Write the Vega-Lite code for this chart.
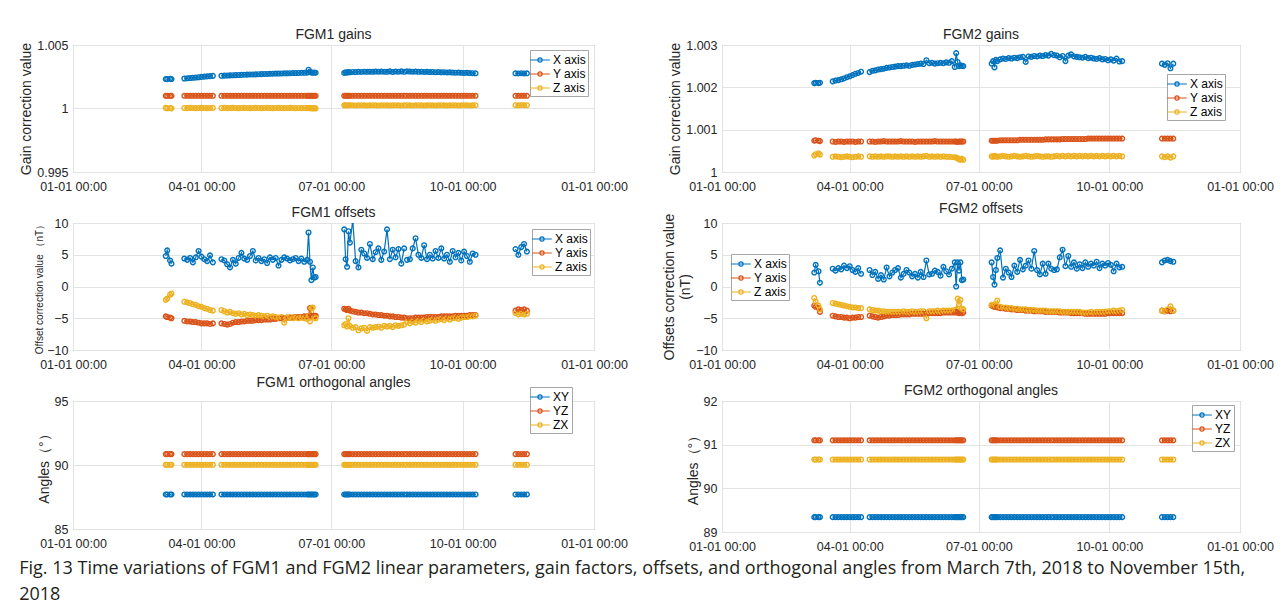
{
"$schema":"https://vega.github.io/schema/vega-lite/v6.json",
"padding":{"left":19,"top":27,"right":5,"bottom":0},
"datasets":{"r":[
{"d":"2018-03-07","s":1,"gx":1.00232,"gy":1.001,"gz":1.00006,"hx":1.0021,"hy":1.00074,"hz":1.00039,"ox":4.8,"oy":-4.7,"oz":-2.1,"px":2.2,"py":-3.0,"pz":-1.8,"a":87.7,"b":90.85,"c":90.02,"e":89.34,"f":91.1,"g":90.66},
{"d":"2018-03-08","s":1,"gx":1.00231,"gy":1.001,"gz":1.00002,"hx":1.00211,"hy":1.00075,"hz":1.00042,"ox":5.7,"oy":-4.8,"oz":-1.9,"px":3.4,"py":-3.2,"pz":-2.4,"a":87.7,"b":90.85,"c":90.02,"e":89.34,"f":91.1,"g":90.66},
{"d":"2018-03-10","s":1,"gx":1.00233,"gy":1.001,"gz":1.00004,"hx":1.0021,"hy":1.00074,"hz":1.00044,"ox":4.1,"oy":-4.9,"oz":-1.3,"px":2.4,"py":-3.4,"pz":-3.0,"a":87.7,"b":90.85,"c":90.02,"e":89.34,"f":91.1,"g":90.66},
{"d":"2018-03-11","s":1,"gx":1.00232,"gy":1.001,"gz":1.00001,"hx":1.00211,"hy":1.00073,"hz":1.00041,"ox":3.6,"oy":-5.0,"oz":-1.1,"px":0.6,"py":-4.0,"pz":-3.6,"a":87.7,"b":90.85,"c":90.02,"e":89.34,"f":91.1,"g":90.66},
{"d":"2018-03-20","s":2,"gx":1.00236,"gy":1.001,"gz":1.00004,"hx":1.00214,"hy":1.00072,"hz":1.00036,"ox":4.4,"oy":-5.4,"oz":-2.4,"px":2.8,"py":-4.6,"pz":-2.6,"a":87.7,"b":90.85,"c":90.02,"e":89.34,"f":91.1,"g":90.66},
{"d":"2018-03-22","s":2,"gx":1.00238,"gy":1.001,"gz":1.00003,"hx":1.00216,"hy":1.00071,"hz":1.00037,"ox":4.2,"oy":-5.5,"oz":-2.5,"px":2.5,"py":-4.7,"pz":-2.7,"a":87.7,"b":90.85,"c":90.02,"e":89.34,"f":91.1,"g":90.66},
{"d":"2018-03-24","s":2,"gx":1.0024,"gy":1.001,"gz":1.00005,"hx":1.00217,"hy":1.00072,"hz":1.00036,"ox":4.5,"oy":-5.5,"oz":-2.6,"px":2.9,"py":-4.8,"pz":-2.8,"a":87.7,"b":90.85,"c":90.02,"e":89.34,"f":91.1,"g":90.66},
{"d":"2018-03-26","s":2,"gx":1.00242,"gy":1.001,"gz":1.00004,"hx":1.00219,"hy":1.00072,"hz":1.00035,"ox":3.8,"oy":-5.6,"oz":-2.8,"px":2.7,"py":-4.8,"pz":-2.9,"a":87.7,"b":90.85,"c":90.02,"e":89.34,"f":91.1,"g":90.66},
{"d":"2018-03-28","s":2,"gx":1.00244,"gy":1.001,"gz":1.00003,"hx":1.00221,"hy":1.00071,"hz":1.00036,"ox":4.6,"oy":-5.6,"oz":-2.9,"px":3.3,"py":-4.9,"pz":-3.0,"a":87.7,"b":90.85,"c":90.02,"e":89.34,"f":91.1,"g":90.66},
{"d":"2018-03-30","s":2,"gx":1.00246,"gy":1.001,"gz":1.00004,"hx":1.00224,"hy":1.00072,"hz":1.00037,"ox":5.6,"oy":-5.7,"oz":-3.1,"px":2.9,"py":-4.9,"pz":-3.1,"a":87.7,"b":90.85,"c":90.02,"e":89.34,"f":91.1,"g":90.66},
{"d":"2018-04-01","s":2,"gx":1.00249,"gy":1.001,"gz":1.00005,"hx":1.00226,"hy":1.00072,"hz":1.00036,"ox":4.7,"oy":-5.8,"oz":-3.2,"px":3.2,"py":-5.0,"pz":-3.2,"a":87.7,"b":90.85,"c":90.02,"e":89.34,"f":91.1,"g":90.66},
{"d":"2018-04-03","s":2,"gx":1.00251,"gy":1.001,"gz":1.00004,"hx":1.00229,"hy":1.00072,"hz":1.00035,"ox":4.3,"oy":-5.8,"oz":-3.4,"px":2.6,"py":-4.9,"pz":-3.3,"a":87.7,"b":90.85,"c":90.02,"e":89.34,"f":91.1,"g":90.66},
{"d":"2018-04-05","s":2,"gx":1.00253,"gy":1.001,"gz":1.00003,"hx":1.00232,"hy":1.00071,"hz":1.00036,"ox":4.0,"oy":-5.8,"oz":-3.5,"px":2.3,"py":-4.9,"pz":-3.3,"a":87.7,"b":90.85,"c":90.02,"e":89.34,"f":91.1,"g":90.66},
{"d":"2018-04-07","s":2,"gx":1.00255,"gy":1.001,"gz":1.00004,"hx":1.00234,"hy":1.00072,"hz":1.00037,"ox":4.9,"oy":-5.9,"oz":-3.7,"px":2.9,"py":-4.8,"pz":-3.4,"a":87.7,"b":90.85,"c":90.02,"e":89.34,"f":91.1,"g":90.66},
{"d":"2018-04-09","s":2,"gx":1.00257,"gy":1.001,"gz":1.00005,"hx":1.00237,"hy":1.00072,"hz":1.00036,"ox":3.8,"oy":-5.8,"oz":-3.8,"px":2.0,"py":-4.8,"pz":-3.4,"a":87.7,"b":90.85,"c":90.02,"e":89.34,"f":91.1,"g":90.66},
{"d":"2018-04-15","s":3,"gx":1.00258,"gy":1.001,"gz":1.00004,"hx":1.00236,"hy":1.00072,"hz":1.00037,"ox":4.3,"oy":-5.8,"oz":-3.7,"px":2.6,"py":-4.6,"pz":-3.6,"a":87.7,"b":90.85,"c":90.02,"e":89.34,"f":91.1,"g":90.66},
{"d":"2018-04-17","s":3,"gx":1.00259,"gy":1.001,"gz":1.00005,"hx":1.00239,"hy":1.00072,"hz":1.00036,"ox":4.1,"oy":-5.9,"oz":-3.9,"px":1.8,"py":-4.7,"pz":-3.7,"a":87.7,"b":90.85,"c":90.02,"e":89.34,"f":91.1,"g":90.66},
{"d":"2018-04-19","s":3,"gx":1.0026,"gy":1.001,"gz":1.00003,"hx":1.0024,"hy":1.00071,"hz":1.00037,"ox":3.5,"oy":-6.0,"oz":-4.1,"px":2.3,"py":-4.8,"pz":-3.8,"a":87.7,"b":90.85,"c":90.02,"e":89.34,"f":91.1,"g":90.66},
{"d":"2018-04-21","s":3,"gx":1.00261,"gy":1.001,"gz":1.00004,"hx":1.00242,"hy":1.00072,"hz":1.00036,"ox":3.0,"oy":-5.9,"oz":-4.0,"px":1.2,"py":-4.9,"pz":-3.8,"a":87.7,"b":90.85,"c":90.02,"e":89.34,"f":91.1,"g":90.66},
{"d":"2018-04-23","s":3,"gx":1.00262,"gy":1.001,"gz":1.00005,"hx":1.00243,"hy":1.00072,"hz":1.00037,"ox":4.2,"oy":-5.7,"oz":-4.2,"px":1.8,"py":-4.8,"pz":-3.9,"a":87.7,"b":90.85,"c":90.02,"e":89.34,"f":91.1,"g":90.66},
{"d":"2018-04-25","s":3,"gx":1.00263,"gy":1.001,"gz":1.00004,"hx":1.00244,"hy":1.00073,"hz":1.00036,"ox":3.6,"oy":-5.6,"oz":-4.3,"px":1.1,"py":-4.7,"pz":-3.9,"a":87.7,"b":90.85,"c":90.02,"e":89.34,"f":91.1,"g":90.66},
{"d":"2018-04-27","s":3,"gx":1.00264,"gy":1.001,"gz":1.00003,"hx":1.00246,"hy":1.00072,"hz":1.00037,"ox":4.5,"oy":-5.6,"oz":-4.2,"px":3.0,"py":-4.6,"pz":-4.0,"a":87.7,"b":90.85,"c":90.02,"e":89.34,"f":91.1,"g":90.66},
{"d":"2018-04-29","s":3,"gx":1.00265,"gy":1.001,"gz":1.00004,"hx":1.00247,"hy":1.00072,"hz":1.00037,"ox":5.3,"oy":-5.5,"oz":-4.4,"px":1.6,"py":-4.6,"pz":-4.0,"a":87.7,"b":90.85,"c":90.02,"e":89.34,"f":91.1,"g":90.66},
{"d":"2018-05-01","s":3,"gx":1.00266,"gy":1.001,"gz":1.00005,"hx":1.00248,"hy":1.00072,"hz":1.00036,"ox":4.4,"oy":-5.5,"oz":-4.3,"px":2.2,"py":-4.5,"pz":-4.0,"a":87.7,"b":90.85,"c":90.02,"e":89.34,"f":91.1,"g":90.66},
{"d":"2018-05-03","s":3,"gx":1.00267,"gy":1.001,"gz":1.00004,"hx":1.00249,"hy":1.00072,"hz":1.00037,"ox":4.2,"oy":-5.4,"oz":-4.5,"px":2.6,"py":-4.5,"pz":-4.0,"a":87.7,"b":90.85,"c":90.02,"e":89.34,"f":91.1,"g":90.66},
{"d":"2018-05-05","s":3,"gx":1.00268,"gy":1.001,"gz":1.00003,"hx":1.0025,"hy":1.00072,"hz":1.00036,"ox":4.8,"oy":-5.4,"oz":-4.4,"px":2.9,"py":-4.5,"pz":-4.0,"a":87.7,"b":90.85,"c":90.02,"e":89.34,"f":91.1,"g":90.66},
{"d":"2018-05-07","s":3,"gx":1.00268,"gy":1.001,"gz":1.00004,"hx":1.0025,"hy":1.00073,"hz":1.00037,"ox":5.6,"oy":-5.4,"oz":-4.5,"px":1.4,"py":-4.4,"pz":-4.0,"a":87.7,"b":90.85,"c":90.02,"e":89.34,"f":91.1,"g":90.66},
{"d":"2018-05-09","s":3,"gx":1.00269,"gy":1.001,"gz":1.00005,"hx":1.00251,"hy":1.00072,"hz":1.00036,"ox":4.1,"oy":-5.3,"oz":-4.6,"px":2.0,"py":-4.4,"pz":-3.9,"a":87.7,"b":90.85,"c":90.02,"e":89.34,"f":91.1,"g":90.66},
{"d":"2018-05-11","s":3,"gx":1.0027,"gy":1.001,"gz":1.00004,"hx":1.00252,"hy":1.00072,"hz":1.00037,"ox":4.5,"oy":-5.3,"oz":-4.5,"px":2.6,"py":-4.4,"pz":-4.0,"a":87.7,"b":90.85,"c":90.02,"e":89.34,"f":91.1,"g":90.66},
{"d":"2018-05-13","s":3,"gx":1.00271,"gy":1.001,"gz":1.00003,"hx":1.00251,"hy":1.00072,"hz":1.00036,"ox":4.0,"oy":-5.3,"oz":-4.6,"px":2.2,"py":-4.4,"pz":-4.0,"a":87.7,"b":90.85,"c":90.02,"e":89.34,"f":91.1,"g":90.66},
{"d":"2018-05-15","s":3,"gx":1.00272,"gy":1.001,"gz":1.00004,"hx":1.00253,"hy":1.00072,"hz":1.00037,"ox":4.3,"oy":-5.2,"oz":-4.7,"px":1.6,"py":-4.3,"pz":-3.9,"a":87.7,"b":90.85,"c":90.02,"e":89.34,"f":91.1,"g":90.66},
{"d":"2018-05-17","s":3,"gx":1.00272,"gy":1.001,"gz":1.00005,"hx":1.00254,"hy":1.00071,"hz":1.00036,"ox":3.7,"oy":-5.2,"oz":-4.6,"px":2.0,"py":-4.3,"pz":-4.0,"a":87.7,"b":90.85,"c":90.02,"e":89.34,"f":91.1,"g":90.66},
{"d":"2018-05-19","s":3,"gx":1.00273,"gy":1.001,"gz":1.00004,"hx":1.00255,"hy":1.00072,"hz":1.00037,"ox":4.6,"oy":-5.2,"oz":-4.8,"px":1.4,"py":-4.3,"pz":-4.0,"a":87.7,"b":90.85,"c":90.02,"e":89.34,"f":91.1,"g":90.66},
{"d":"2018-05-21","s":3,"gx":1.00274,"gy":1.001,"gz":1.00003,"hx":1.00256,"hy":1.00072,"hz":1.00036,"ox":4.2,"oy":-5.1,"oz":-4.7,"px":2.3,"py":-4.3,"pz":-3.9,"a":87.7,"b":90.85,"c":90.02,"e":89.34,"f":91.1,"g":90.66},
{"d":"2018-05-23","s":3,"gx":1.00275,"gy":1.001,"gz":1.00004,"hx":1.00255,"hy":1.00072,"hz":1.00037,"ox":4.5,"oy":-5.1,"oz":-4.8,"px":1.5,"py":-4.3,"pz":-3.9,"a":87.7,"b":90.85,"c":90.02,"e":89.34,"f":91.1,"g":90.66},
{"d":"2018-05-25","s":3,"gx":1.00275,"gy":1.001,"gz":1.00005,"hx":1.00264,"hy":1.00072,"hz":1.00038,"ox":3.3,"oy":-5.0,"oz":-4.9,"px":4.1,"py":-4.2,"pz":-5.0,"a":87.7,"b":90.85,"c":90.02,"e":89.34,"f":91.1,"g":90.66},
{"d":"2018-05-27","s":3,"gx":1.00276,"gy":1.001,"gz":1.00004,"hx":1.00257,"hy":1.00072,"hz":1.00036,"ox":4.2,"oy":-5.0,"oz":-4.8,"px":1.9,"py":-4.2,"pz":-3.9,"a":87.7,"b":90.85,"c":90.02,"e":89.34,"f":91.1,"g":90.66},
{"d":"2018-05-29","s":3,"gx":1.00277,"gy":1.001,"gz":1.00003,"hx":1.00258,"hy":1.00072,"hz":1.00037,"ox":4.6,"oy":-5.0,"oz":-5.7,"px":2.0,"py":-4.2,"pz":-3.9,"a":87.7,"b":90.85,"c":90.02,"e":89.34,"f":91.1,"g":90.66},
{"d":"2018-05-31","s":3,"gx":1.00277,"gy":1.001,"gz":1.00004,"hx":1.00256,"hy":1.00073,"hz":1.00036,"ox":4.4,"oy":-4.9,"oz":-4.9,"px":2.5,"py":-4.2,"pz":-3.9,"a":87.7,"b":90.85,"c":90.02,"e":89.34,"f":91.1,"g":90.66},
{"d":"2018-06-02","s":3,"gx":1.00278,"gy":1.001,"gz":1.00005,"hx":1.00257,"hy":1.00072,"hz":1.00037,"ox":4.1,"oy":-4.9,"oz":-4.8,"px":2.3,"py":-4.2,"pz":-3.8,"a":87.7,"b":90.85,"c":90.02,"e":89.34,"f":91.1,"g":90.66},
{"d":"2018-06-04","s":3,"gx":1.00279,"gy":1.001,"gz":1.00004,"hx":1.00258,"hy":1.00072,"hz":1.00036,"ox":4.3,"oy":-4.9,"oz":-5.0,"px":1.7,"py":-4.2,"pz":-3.9,"a":87.7,"b":90.85,"c":90.02,"e":89.34,"f":91.1,"g":90.66},
{"d":"2018-06-06","s":3,"gx":1.00279,"gy":1.001,"gz":1.00003,"hx":1.00257,"hy":1.00072,"hz":1.00037,"ox":4.5,"oy":-4.8,"oz":-4.9,"px":3.1,"py":-4.1,"pz":-3.8,"a":87.7,"b":90.85,"c":90.02,"e":89.34,"f":91.1,"g":90.66},
{"d":"2018-06-08","s":3,"gx":1.0028,"gy":1.001,"gz":1.00004,"hx":1.00259,"hy":1.00072,"hz":1.00036,"ox":4.0,"oy":-4.8,"oz":-5.0,"px":2.4,"py":-4.1,"pz":-3.8,"a":87.7,"b":90.85,"c":90.02,"e":89.34,"f":91.1,"g":90.66},
{"d":"2018-06-10","s":3,"gx":1.00281,"gy":1.001,"gz":1.00003,"hx":1.00258,"hy":1.00072,"hz":1.00036,"ox":4.4,"oy":-4.8,"oz":-4.9,"px":1.9,"py":-4.1,"pz":-3.8,"a":87.7,"b":90.85,"c":90.02,"e":89.34,"f":91.1,"g":90.66},
{"d":"2018-06-12","s":3,"gx":1.00281,"gy":1.001,"gz":1.00004,"hx":1.00262,"hy":1.00072,"hz":1.00035,"ox":3.9,"oy":-4.7,"oz":-5.0,"px":2.8,"py":-4.1,"pz":-3.8,"a":87.7,"b":90.85,"c":90.02,"e":89.34,"f":91.1,"g":90.66},
{"d":"2018-06-14","s":3,"gx":1.00282,"gy":1.001,"gz":1.00003,"hx":1.00248,"hy":1.00072,"hz":1.00035,"ox":4.2,"oy":-4.7,"oz":-5.1,"px":3.8,"py":-4.1,"pz":-3.7,"a":87.7,"b":90.85,"c":90.02,"e":89.34,"f":91.1,"g":90.66},
{"d":"2018-06-15","s":3,"gx":1.00305,"gy":1.001,"gz":1.00004,"hx":1.00281,"hy":1.00072,"hz":1.00034,"ox":8.5,"oy":-4.6,"oz":-4.6,"px":0.0,"py":-4.0,"pz":-3.6,"a":87.7,"b":90.85,"c":90.02,"e":89.34,"f":91.1,"g":90.66},
{"d":"2018-06-16","s":3,"gx":1.00288,"gy":1.001,"gz":1.00002,"hx":1.0026,"hy":1.00071,"hz":1.00033,"ox":3.9,"oy":-3.4,"oz":-5.5,"px":3.8,"py":-4.1,"pz":-1.9,"a":87.7,"b":90.85,"c":90.02,"e":89.34,"f":91.1,"g":90.66},
{"d":"2018-06-17","s":3,"gx":1.00283,"gy":1.001,"gz":1.00003,"hx":1.0025,"hy":1.00072,"hz":1.0003,"ox":1.0,"oy":-4.6,"oz":-3.4,"px":2.5,"py":-4.2,"pz":-2.8,"a":87.7,"b":90.85,"c":90.02,"e":89.34,"f":91.1,"g":90.66},
{"d":"2018-06-18","s":3,"gx":1.00282,"gy":1.001,"gz":1.00001,"hx":1.00252,"hy":1.00072,"hz":1.00029,"ox":3.0,"oy":-4.7,"oz":-3.3,"px":3.8,"py":-4.1,"pz":-2.1,"a":87.7,"b":90.85,"c":90.02,"e":89.34,"f":91.1,"g":90.66},
{"d":"2018-06-19","s":3,"gx":1.00283,"gy":1.001,"gz":1.00002,"hx":1.00251,"hy":1.00072,"hz":1.00031,"ox":1.4,"oy":-4.6,"oz":-4.9,"px":1.0,"py":-4.2,"pz":-3.5,"a":87.7,"b":90.85,"c":90.02,"e":89.34,"f":91.1,"g":90.66},
{"d":"2018-06-20","s":3,"gx":1.00282,"gy":1.001,"gz":1.00001,"hx":1.0025,"hy":1.00072,"hz":1.00029,"ox":1.5,"oy":-4.6,"oz":-5.0,"px":1.1,"py":-4.1,"pz":-3.6,"a":87.7,"b":90.85,"c":90.02,"e":89.34,"f":91.1,"g":90.66},
{"d":"2018-07-10","s":4,"gx":1.0028,"gy":1.001,"gz":1.00025,"hx":1.00256,"hy":1.00074,"hz":1.00037,"ox":9.0,"oy":-3.5,"oz":-6.1,"px":3.8,"py":-3.0,"pz":-2.9,"a":87.7,"b":90.85,"c":90.02,"e":89.34,"f":91.1,"g":90.66},
{"d":"2018-07-11","s":4,"gx":1.00286,"gy":1.001,"gz":1.00026,"hx":1.00262,"hy":1.00074,"hz":1.00036,"ox":4.3,"oy":-3.6,"oz":-5.9,"px":1.5,"py":-3.1,"pz":-3.0,"a":87.7,"b":90.85,"c":90.02,"e":89.34,"f":91.1,"g":90.66},
{"d":"2018-07-12","s":4,"gx":1.00282,"gy":1.001,"gz":1.00024,"hx":1.00247,"hy":1.00074,"hz":1.00038,"ox":3.1,"oy":-3.7,"oz":-6.3,"px":0.3,"py":-3.2,"pz":-2.8,"a":87.7,"b":90.85,"c":90.02,"e":89.34,"f":91.1,"g":90.66},
{"d":"2018-07-13","s":4,"gx":1.00287,"gy":1.001,"gz":1.00025,"hx":1.00265,"hy":1.00074,"hz":1.00037,"ox":8.7,"oy":-3.5,"oz":-5.0,"px":2.6,"py":-3.2,"pz":-3.1,"a":87.7,"b":90.85,"c":90.02,"e":89.34,"f":91.1,"g":90.66},
{"d":"2018-07-14","s":4,"gx":1.00285,"gy":1.001,"gz":1.00026,"hx":1.00262,"hy":1.00074,"hz":1.00036,"ox":6.9,"oy":-3.8,"oz":-6.2,"px":4.5,"py":-3.3,"pz":-2.2,"a":87.7,"b":90.85,"c":90.02,"e":89.34,"f":91.1,"g":90.66},
{"d":"2018-07-16","s":4,"gx":1.00288,"gy":1.001,"gz":1.00025,"hx":1.00266,"hy":1.00075,"hz":1.00037,"ox":10.4,"oy":-3.9,"oz":-6.5,"px":5.7,"py":-3.4,"pz":-3.2,"a":87.7,"b":90.85,"c":90.02,"e":89.34,"f":91.1,"g":90.66},
{"d":"2018-07-18","s":4,"gx":1.00287,"gy":1.001,"gz":1.00024,"hx":1.00268,"hy":1.00075,"hz":1.00038,"ox":4.0,"oy":-4.0,"oz":-6.4,"px":1.4,"py":-3.4,"pz":-3.3,"a":87.7,"b":90.85,"c":90.02,"e":89.34,"f":91.1,"g":90.66},
{"d":"2018-07-20","s":4,"gx":1.00289,"gy":1.001,"gz":1.00025,"hx":1.00267,"hy":1.00075,"hz":1.00037,"ox":3.0,"oy":-4.1,"oz":-6.9,"px":2.8,"py":-3.5,"pz":-3.3,"a":87.7,"b":90.85,"c":90.02,"e":89.34,"f":91.1,"g":90.66},
{"d":"2018-07-22","s":4,"gx":1.00288,"gy":1.001,"gz":1.00026,"hx":1.00269,"hy":1.00075,"hz":1.00036,"ox":5.8,"oy":-4.1,"oz":-6.6,"px":2.2,"py":-3.5,"pz":-3.4,"a":87.7,"b":90.85,"c":90.02,"e":89.34,"f":91.1,"g":90.66},
{"d":"2018-07-24","s":4,"gx":1.0029,"gy":1.001,"gz":1.00025,"hx":1.00268,"hy":1.00075,"hz":1.00037,"ox":5.2,"oy":-4.2,"oz":-6.5,"px":1.5,"py":-3.6,"pz":-3.4,"a":87.7,"b":90.85,"c":90.02,"e":89.34,"f":91.1,"g":90.66},
{"d":"2018-07-26","s":4,"gx":1.00289,"gy":1.001,"gz":1.00024,"hx":1.0027,"hy":1.00075,"hz":1.00038,"ox":4.5,"oy":-4.2,"oz":-7.0,"px":3.3,"py":-3.6,"pz":-3.5,"a":87.7,"b":90.85,"c":90.02,"e":89.34,"f":91.1,"g":90.66},
{"d":"2018-07-28","s":4,"gx":1.0029,"gy":1.001,"gz":1.00025,"hx":1.00269,"hy":1.00075,"hz":1.00037,"ox":6.7,"oy":-4.3,"oz":-6.4,"px":2.3,"py":-3.7,"pz":-3.5,"a":87.7,"b":90.85,"c":90.02,"e":89.34,"f":91.1,"g":90.66},
{"d":"2018-07-30","s":4,"gx":1.00289,"gy":1.001,"gz":1.00026,"hx":1.00271,"hy":1.00076,"hz":1.00036,"ox":4.3,"oy":-4.4,"oz":-6.5,"px":4.2,"py":-3.7,"pz":-3.6,"a":87.7,"b":90.85,"c":90.02,"e":89.34,"f":91.1,"g":90.66},
{"d":"2018-08-01","s":4,"gx":1.00291,"gy":1.001,"gz":1.00025,"hx":1.00272,"hy":1.00076,"hz":1.00037,"ox":5.4,"oy":-4.4,"oz":-6.4,"px":2.7,"py":-3.7,"pz":-3.6,"a":87.7,"b":90.85,"c":90.02,"e":89.34,"f":91.1,"g":90.66},
{"d":"2018-08-03","s":4,"gx":1.0029,"gy":1.001,"gz":1.00024,"hx":1.0026,"hy":1.00076,"hz":1.00038,"ox":6.0,"oy":-4.5,"oz":-6.3,"px":3.3,"py":-3.8,"pz":-3.6,"a":87.7,"b":90.85,"c":90.02,"e":89.34,"f":91.1,"g":90.66},
{"d":"2018-08-05","s":4,"gx":1.00291,"gy":1.001,"gz":1.00025,"hx":1.00273,"hy":1.00076,"hz":1.00037,"ox":4.2,"oy":-4.5,"oz":-6.5,"px":4.1,"py":-3.8,"pz":-3.7,"a":87.7,"b":90.85,"c":90.02,"e":89.34,"f":91.1,"g":90.66},
{"d":"2018-08-07","s":4,"gx":1.0029,"gy":1.001,"gz":1.00026,"hx":1.00272,"hy":1.00076,"hz":1.00036,"ox":5.5,"oy":-4.6,"oz":-6.2,"px":2.8,"py":-3.8,"pz":-3.7,"a":87.7,"b":90.85,"c":90.02,"e":89.34,"f":91.1,"g":90.66},
{"d":"2018-08-09","s":4,"gx":1.00289,"gy":1.001,"gz":1.00025,"hx":1.00274,"hy":1.00076,"hz":1.00037,"ox":9.0,"oy":-4.6,"oz":-6.3,"px":5.6,"py":-3.9,"pz":-3.7,"a":87.7,"b":90.85,"c":90.02,"e":89.34,"f":91.1,"g":90.66},
{"d":"2018-08-11","s":4,"gx":1.00292,"gy":1.001,"gz":1.00024,"hx":1.00273,"hy":1.00076,"hz":1.00038,"ox":4.3,"oy":-4.7,"oz":-6.2,"px":2.6,"py":-3.9,"pz":-3.8,"a":87.7,"b":90.85,"c":90.02,"e":89.34,"f":91.1,"g":90.66},
{"d":"2018-08-13","s":4,"gx":1.00288,"gy":1.001,"gz":1.00025,"hx":1.00275,"hy":1.00076,"hz":1.00037,"ox":5.8,"oy":-4.7,"oz":-6.4,"px":1.9,"py":-3.9,"pz":-3.8,"a":87.7,"b":90.85,"c":90.02,"e":89.34,"f":91.1,"g":90.66},
{"d":"2018-08-15","s":4,"gx":1.00291,"gy":1.001,"gz":1.00026,"hx":1.00274,"hy":1.00076,"hz":1.00036,"ox":4.6,"oy":-4.8,"oz":-6.1,"px":3.6,"py":-3.9,"pz":-3.8,"a":87.7,"b":90.85,"c":90.02,"e":89.34,"f":91.1,"g":90.66},
{"d":"2018-08-17","s":4,"gx":1.0029,"gy":1.001,"gz":1.00025,"hx":1.00276,"hy":1.00077,"hz":1.00037,"ox":5.9,"oy":-4.8,"oz":-6.2,"px":2.0,"py":-4.0,"pz":-3.8,"a":87.7,"b":90.85,"c":90.02,"e":89.34,"f":91.1,"g":90.66},
{"d":"2018-08-19","s":4,"gx":1.00292,"gy":1.001,"gz":1.00024,"hx":1.00275,"hy":1.00077,"hz":1.00037,"ox":3.6,"oy":-4.9,"oz":-6.1,"px":3.6,"py":-4.0,"pz":-3.9,"a":87.7,"b":90.85,"c":90.02,"e":89.34,"f":91.1,"g":90.66},
{"d":"2018-08-21","s":4,"gx":1.00289,"gy":1.001,"gz":1.00025,"hx":1.00279,"hy":1.00077,"hz":1.00036,"ox":6.0,"oy":-4.9,"oz":-6.0,"px":2.8,"py":-4.0,"pz":-3.9,"a":87.7,"b":90.85,"c":90.02,"e":89.34,"f":91.1,"g":90.66},
{"d":"2018-08-23","s":5,"gx":1.00293,"gy":1.001,"gz":1.00026,"hx":1.00276,"hy":1.00077,"hz":1.00037,"ox":4.2,"oy":-5.0,"oz":-5.6,"px":2.6,"py":-4.0,"pz":-3.9,"a":87.7,"b":90.85,"c":90.02,"e":89.34,"f":91.1,"g":90.66},
{"d":"2018-08-25","s":5,"gx":1.00291,"gy":1.001,"gz":1.00025,"hx":1.00275,"hy":1.00077,"hz":1.00038,"ox":4.3,"oy":-5.0,"oz":-5.8,"px":2.7,"py":-4.0,"pz":-3.9,"a":87.7,"b":90.85,"c":90.02,"e":89.34,"f":91.1,"g":90.66},
{"d":"2018-08-27","s":5,"gx":1.0029,"gy":1.001,"gz":1.00024,"hx":1.00271,"hy":1.00077,"hz":1.00037,"ox":6.0,"oy":-5.0,"oz":-5.5,"px":4.6,"py":-4.1,"pz":-3.9,"a":87.7,"b":90.85,"c":90.02,"e":89.34,"f":91.1,"g":90.66},
{"d":"2018-08-29","s":5,"gx":1.00291,"gy":1.001,"gz":1.00025,"hx":1.00274,"hy":1.00078,"hz":1.00038,"ox":7.6,"oy":-4.9,"oz":-5.7,"px":5.8,"py":-4.1,"pz":-4.0,"a":87.7,"b":90.85,"c":90.02,"e":89.34,"f":91.1,"g":90.66},
{"d":"2018-08-31","s":5,"gx":1.00289,"gy":1.001,"gz":1.00026,"hx":1.00262,"hy":1.00078,"hz":1.00037,"ox":5.0,"oy":-4.9,"oz":-5.4,"px":3.2,"py":-4.1,"pz":-4.0,"a":87.7,"b":90.85,"c":90.02,"e":89.34,"f":91.1,"g":90.66},
{"d":"2018-09-02","s":5,"gx":1.0029,"gy":1.001,"gz":1.00025,"hx":1.00275,"hy":1.00078,"hz":1.00038,"ox":4.5,"oy":-4.9,"oz":-5.6,"px":4.8,"py":-4.1,"pz":-4.0,"a":87.7,"b":90.85,"c":90.02,"e":89.34,"f":91.1,"g":90.66},
{"d":"2018-09-04","s":5,"gx":1.00288,"gy":1.001,"gz":1.00024,"hx":1.00278,"hy":1.00078,"hz":1.00037,"ox":6.5,"oy":-4.9,"oz":-5.3,"px":3.1,"py":-4.2,"pz":-4.0,"a":87.7,"b":90.85,"c":90.02,"e":89.34,"f":91.1,"g":90.66},
{"d":"2018-09-06","s":5,"gx":1.00289,"gy":1.001,"gz":1.00025,"hx":1.00273,"hy":1.00078,"hz":1.00038,"ox":4.3,"oy":-4.8,"oz":-5.5,"px":3.8,"py":-4.2,"pz":-4.0,"a":87.7,"b":90.85,"c":90.02,"e":89.34,"f":91.1,"g":90.66},
{"d":"2018-09-08","s":5,"gx":1.00287,"gy":1.001,"gz":1.00026,"hx":1.00272,"hy":1.00078,"hz":1.00037,"ox":5.0,"oy":-4.8,"oz":-5.4,"px":2.8,"py":-4.2,"pz":-4.0,"a":87.7,"b":90.85,"c":90.02,"e":89.34,"f":91.1,"g":90.66},
{"d":"2018-09-10","s":5,"gx":1.00288,"gy":1.001,"gz":1.00025,"hx":1.00271,"hy":1.00078,"hz":1.00038,"ox":4.4,"oy":-4.8,"oz":-5.2,"px":3.5,"py":-4.2,"pz":-4.0,"a":87.7,"b":90.85,"c":90.02,"e":89.34,"f":91.1,"g":90.66},
{"d":"2018-09-12","s":5,"gx":1.00286,"gy":1.001,"gz":1.00024,"hx":1.0027,"hy":1.00078,"hz":1.00037,"ox":5.6,"oy":-4.8,"oz":-5.4,"px":2.9,"py":-4.2,"pz":-4.1,"a":87.7,"b":90.85,"c":90.02,"e":89.34,"f":91.1,"g":90.66},
{"d":"2018-09-14","s":5,"gx":1.00287,"gy":1.001,"gz":1.00025,"hx":1.00272,"hy":1.00078,"hz":1.00038,"ox":4.5,"oy":-4.8,"oz":-5.2,"px":3.8,"py":-4.3,"pz":-4.1,"a":87.7,"b":90.85,"c":90.02,"e":89.34,"f":91.1,"g":90.66},
{"d":"2018-09-16","s":5,"gx":1.00285,"gy":1.001,"gz":1.00026,"hx":1.00269,"hy":1.00079,"hz":1.00037,"ox":6.0,"oy":-4.7,"oz":-5.1,"px":3.1,"py":-4.3,"pz":-4.1,"a":87.7,"b":90.85,"c":90.02,"e":89.34,"f":91.1,"g":90.66},
{"d":"2018-09-18","s":5,"gx":1.00286,"gy":1.001,"gz":1.00025,"hx":1.0027,"hy":1.00079,"hz":1.00038,"ox":4.4,"oy":-4.7,"oz":-5.3,"px":3.6,"py":-4.3,"pz":-4.0,"a":87.7,"b":90.85,"c":90.02,"e":89.34,"f":91.1,"g":90.66},
{"d":"2018-09-20","s":5,"gx":1.00284,"gy":1.001,"gz":1.00024,"hx":1.00268,"hy":1.00079,"hz":1.00037,"ox":5.0,"oy":-4.7,"oz":-5.0,"px":3.3,"py":-4.3,"pz":-4.1,"a":87.7,"b":90.85,"c":90.02,"e":89.34,"f":91.1,"g":90.66},
{"d":"2018-09-22","s":5,"gx":1.00285,"gy":1.001,"gz":1.00025,"hx":1.00267,"hy":1.00079,"hz":1.00038,"ox":3.9,"oy":-4.7,"oz":-5.2,"px":3.9,"py":-4.3,"pz":-4.0,"a":87.7,"b":90.85,"c":90.02,"e":89.34,"f":91.1,"g":90.66},
{"d":"2018-09-24","s":5,"gx":1.00283,"gy":1.001,"gz":1.00026,"hx":1.00269,"hy":1.00079,"hz":1.00037,"ox":5.6,"oy":-4.7,"oz":-5.0,"px":2.9,"py":-4.3,"pz":-4.0,"a":87.7,"b":90.85,"c":90.02,"e":89.34,"f":91.1,"g":90.66},
{"d":"2018-09-26","s":5,"gx":1.00282,"gy":1.001,"gz":1.00025,"hx":1.00266,"hy":1.00079,"hz":1.00038,"ox":4.6,"oy":-4.6,"oz":-4.9,"px":3.6,"py":-4.3,"pz":-4.0,"a":87.7,"b":90.85,"c":90.02,"e":89.34,"f":91.1,"g":90.66},
{"d":"2018-09-28","s":5,"gx":1.00283,"gy":1.001,"gz":1.00024,"hx":1.00267,"hy":1.00079,"hz":1.00037,"ox":5.3,"oy":-4.6,"oz":-5.1,"px":3.3,"py":-4.3,"pz":-4.0,"a":87.7,"b":90.85,"c":90.02,"e":89.34,"f":91.1,"g":90.66},
{"d":"2018-09-30","s":5,"gx":1.00281,"gy":1.001,"gz":1.00025,"hx":1.00264,"hy":1.00079,"hz":1.00038,"ox":4.1,"oy":-4.6,"oz":-4.9,"px":3.7,"py":-4.2,"pz":-3.9,"a":87.7,"b":90.85,"c":90.02,"e":89.34,"f":91.1,"g":90.66},
{"d":"2018-10-02","s":5,"gx":1.0028,"gy":1.001,"gz":1.00026,"hx":1.00266,"hy":1.00079,"hz":1.00037,"ox":5.5,"oy":-4.6,"oz":-4.8,"px":3.4,"py":-4.2,"pz":-3.9,"a":87.7,"b":90.85,"c":90.02,"e":89.34,"f":91.1,"g":90.66},
{"d":"2018-10-04","s":5,"gx":1.00281,"gy":1.001,"gz":1.00025,"hx":1.00263,"hy":1.00079,"hz":1.00038,"ox":4.8,"oy":-4.6,"oz":-4.8,"px":2.4,"py":-4.2,"pz":-3.8,"a":87.7,"b":90.85,"c":90.02,"e":89.34,"f":91.1,"g":90.66},
{"d":"2018-10-06","s":5,"gx":1.00279,"gy":1.001,"gz":1.00024,"hx":1.00268,"hy":1.00079,"hz":1.00037,"ox":3.9,"oy":-4.5,"oz":-4.7,"px":3.6,"py":-4.2,"pz":-3.9,"a":87.7,"b":90.85,"c":90.02,"e":89.34,"f":91.1,"g":90.66},
{"d":"2018-10-08","s":5,"gx":1.00278,"gy":1.001,"gz":1.00025,"hx":1.00261,"hy":1.00079,"hz":1.00038,"ox":5.2,"oy":-4.5,"oz":-4.7,"px":3.0,"py":-4.2,"pz":-3.8,"a":87.7,"b":90.85,"c":90.02,"e":89.34,"f":91.1,"g":90.66},
{"d":"2018-10-10","s":5,"gx":1.00277,"gy":1.001,"gz":1.00026,"hx":1.00262,"hy":1.00079,"hz":1.00037,"ox":5.0,"oy":-4.5,"oz":-4.6,"px":3.1,"py":-4.2,"pz":-3.7,"a":87.7,"b":90.85,"c":90.02,"e":89.34,"f":91.1,"g":90.66},
{"d":"2018-11-07","s":6,"gx":1.00277,"gy":1.001,"gz":1.00026,"hx":1.00256,"hy":1.00079,"hz":1.00037,"ox":5.9,"oy":-3.8,"oz":-4.2,"px":3.8,"py":-3.8,"pz":-3.8,"a":87.7,"b":90.85,"c":90.02,"e":89.34,"f":91.1,"g":90.66},
{"d":"2018-11-09","s":6,"gx":1.00276,"gy":1.001,"gz":1.00025,"hx":1.00253,"hy":1.00079,"hz":1.00035,"ox":5.0,"oy":-3.6,"oz":-4.4,"px":4.1,"py":-3.9,"pz":-3.9,"a":87.7,"b":90.85,"c":90.02,"e":89.34,"f":91.1,"g":90.66},
{"d":"2018-11-11","s":6,"gx":1.00278,"gy":1.001,"gz":1.00027,"hx":1.00257,"hy":1.00079,"hz":1.00037,"ox":6.2,"oy":-3.7,"oz":-4.3,"px":4.2,"py":-3.8,"pz":-3.6,"a":87.7,"b":90.85,"c":90.02,"e":89.34,"f":91.1,"g":90.66},
{"d":"2018-11-13","s":6,"gx":1.00276,"gy":1.001,"gz":1.00025,"hx":1.00245,"hy":1.00079,"hz":1.00034,"ox":6.7,"oy":-3.6,"oz":-4.4,"px":4.0,"py":-3.9,"pz":-3.1,"a":87.7,"b":90.85,"c":90.02,"e":89.34,"f":91.1,"g":90.66},
{"d":"2018-11-15","s":6,"gx":1.00277,"gy":1.001,"gz":1.00026,"hx":1.00256,"hy":1.00079,"hz":1.00037,"ox":5.5,"oy":-3.8,"oz":-4.3,"px":3.9,"py":-3.8,"pz":-3.8,"a":87.7,"b":90.85,"c":90.02,"e":89.34,"f":91.1,"g":90.66}
]},
"title":{"text":["Fig. 13  Time variations of FGM1 and FGM2 linear parameters, gain factors, offsets, and orthogonal angles from March 7th, 2018 to November 15th,","2018"],"orient":"bottom","anchor":"start","frame":"bounds","font":"Open Sans","fontSize":18,"fontWeight":"normal","color":"#231f20","lineHeight":26,"offset":7},
"columns":2,
"bounds":"flush",
"spacing":{"row":51,"column":128},
"resolve":{"scale":{"color":"independent"},"legend":{"color":"independent"}},
"concat":[
{"width":521,"height":127,"title":"FGM1 gains","data":{"name":"r"},
"transform":[{"fold":["gx","gy","gz"],"as":["k","v"]}],
"mark":{"type":"line","strokeWidth":1.2,"clip":true,"point":{"filled":false,"size":22,"strokeWidth":1.4}},
"encoding":{
"x":{"field":"d","type":"temporal","scale":{"type":"utc","domain":[{"year":2018,"month":1,"date":1,"utc":true},{"year":2019,"month":1,"date":1,"utc":true}]},"axis":{"title":null,"values":[{"year":2018,"month":1,"date":1,"utc":true},{"year":2018,"month":4,"date":1,"utc":true},{"year":2018,"month":7,"date":1,"utc":true},{"year":2018,"month":10,"date":1,"utc":true},{"year":2019,"month":1,"date":1,"utc":true}],"labelExpr":"utcFormat(datum.value,'%m-%d %H:%M')","labelFlush":false,"labelOverlap":false}},
"y":{"field":"v","type":"quantitative","scale":{"domain":[0.995,1.005],"zero":false,"nice":false},"axis":{"title":"Gain correction value","values":[0.995,1,1.005],"labelExpr":"''+datum.value"}},
"color":{"field":"k","type":"nominal","scale":{"domain":["gx","gy","gz"],"range":["#0072BD","#D95319","#EDB120"]},"legend":{"title":null,"legendX":457,"legendY":5,"labelExpr":"upper(slice(datum.label,1))+' axis'"}},
"detail":{"field":"s"}}},
{"width":518,"height":127,"title":"FGM2 gains","data":{"name":"r"},
"transform":[{"fold":["hx","hy","hz"],"as":["k","v"]}],
"mark":{"type":"line","strokeWidth":1.2,"clip":true,"point":{"filled":false,"size":22,"strokeWidth":1.4}},
"encoding":{
"x":{"field":"d","type":"temporal","scale":{"type":"utc","domain":[{"year":2018,"month":1,"date":1,"utc":true},{"year":2019,"month":1,"date":1,"utc":true}]},"axis":{"title":null,"values":[{"year":2018,"month":1,"date":1,"utc":true},{"year":2018,"month":4,"date":1,"utc":true},{"year":2018,"month":7,"date":1,"utc":true},{"year":2018,"month":10,"date":1,"utc":true},{"year":2019,"month":1,"date":1,"utc":true}],"labelExpr":"utcFormat(datum.value,'%m-%d %H:%M')","labelFlush":false,"labelOverlap":false}},
"y":{"field":"v","type":"quantitative","scale":{"domain":[1,1.003],"zero":false,"nice":false},"axis":{"title":"Gain correction value","values":[1,1.001,1.002,1.003],"labelExpr":"''+datum.value"}},
"color":{"field":"k","type":"nominal","scale":{"domain":["hx","hy","hz"],"range":["#0072BD","#D95319","#EDB120"]},"legend":{"title":null,"legendX":445,"legendY":29,"labelExpr":"upper(slice(datum.label,1))+' axis'"}},
"detail":{"field":"s"}}},
{"width":521,"height":127,"title":"FGM1 offsets","data":{"name":"r"},
"transform":[{"fold":["ox","oy","oz"],"as":["k","v"]}],
"mark":{"type":"line","strokeWidth":1.2,"clip":true,"point":{"filled":false,"size":22,"strokeWidth":1.4}},
"encoding":{
"x":{"field":"d","type":"temporal","scale":{"type":"utc","domain":[{"year":2018,"month":1,"date":1,"utc":true},{"year":2019,"month":1,"date":1,"utc":true}]},"axis":{"title":null,"values":[{"year":2018,"month":1,"date":1,"utc":true},{"year":2018,"month":4,"date":1,"utc":true},{"year":2018,"month":7,"date":1,"utc":true},{"year":2018,"month":10,"date":1,"utc":true},{"year":2019,"month":1,"date":1,"utc":true}],"labelExpr":"utcFormat(datum.value,'%m-%d %H:%M')","labelFlush":false,"labelOverlap":false}},
"y":{"field":"v","type":"quantitative","scale":{"domain":[-10,10],"nice":false},"axis":{"title":"Offset correction value （nT）","titleFontSize":10,"titlePadding":2,"values":[-10,-5,0,5,10]}},
"color":{"field":"k","type":"nominal","scale":{"domain":["ox","oy","oz"],"range":["#0072BD","#D95319","#EDB120"]},"legend":{"title":null,"legendX":459,"legendY":6,"labelExpr":"upper(slice(datum.label,1))+' axis'"}},
"detail":{"field":"s"}}},
{"width":518,"height":127,"title":"FGM2 offsets","data":{"name":"r"},
"transform":[{"fold":["px","py","pz"],"as":["k","v"]}],
"mark":{"type":"line","strokeWidth":1.2,"clip":true,"point":{"filled":false,"size":22,"strokeWidth":1.4}},
"encoding":{
"x":{"field":"d","type":"temporal","scale":{"type":"utc","domain":[{"year":2018,"month":1,"date":1,"utc":true},{"year":2019,"month":1,"date":1,"utc":true}]},"axis":{"title":null,"values":[{"year":2018,"month":1,"date":1,"utc":true},{"year":2018,"month":4,"date":1,"utc":true},{"year":2018,"month":7,"date":1,"utc":true},{"year":2018,"month":10,"date":1,"utc":true},{"year":2019,"month":1,"date":1,"utc":true}],"labelExpr":"utcFormat(datum.value,'%m-%d %H:%M')","labelFlush":false,"labelOverlap":false}},
"y":{"field":"v","type":"quantitative","scale":{"domain":[-10,10],"nice":false},"axis":{"title":["Offsets correction value","(nT)"],"values":[-10,-5,0,5,10]}},
"color":{"field":"k","type":"nominal","scale":{"domain":["px","py","pz"],"range":["#0072BD","#D95319","#EDB120"]},"legend":{"title":null,"legendX":9,"legendY":31,"labelExpr":"upper(slice(datum.label,1))+' axis'"}},
"detail":{"field":"s"}}},
{"width":521,"height":128,"title":"FGM1 orthogonal angles","data":{"name":"r"},
"transform":[{"fold":["a","b","c"],"as":["k","v"]}],
"mark":{"type":"line","strokeWidth":1.2,"clip":true,"point":{"filled":false,"size":22,"strokeWidth":1.4}},
"encoding":{
"x":{"field":"d","type":"temporal","scale":{"type":"utc","domain":[{"year":2018,"month":1,"date":1,"utc":true},{"year":2019,"month":1,"date":1,"utc":true}]},"axis":{"title":null,"values":[{"year":2018,"month":1,"date":1,"utc":true},{"year":2018,"month":4,"date":1,"utc":true},{"year":2018,"month":7,"date":1,"utc":true},{"year":2018,"month":10,"date":1,"utc":true},{"year":2019,"month":1,"date":1,"utc":true}],"labelExpr":"utcFormat(datum.value,'%m-%d %H:%M')","labelFlush":false,"labelOverlap":false}},
"y":{"field":"v","type":"quantitative","scale":{"domain":[85,95],"zero":false,"nice":false},"axis":{"title":"Angles（°）","values":[85,90,95]}},
"color":{"field":"k","type":"nominal","scale":{"domain":["a","b","c"],"range":["#0072BD","#D95319","#EDB120"]},"legend":{"title":null,"legendX":457,"legendY":-14,"labelExpr":"datum.label=='a'?'XY':datum.label=='b'?'YZ':'ZX'"}},
"detail":{"field":"s"}}},
{"width":518,"height":131,"title":"FGM2 orthogonal angles","data":{"name":"r"},
"transform":[{"fold":["e","f","g"],"as":["k","v"]}],
"mark":{"type":"line","strokeWidth":1.2,"clip":true,"point":{"filled":false,"size":22,"strokeWidth":1.4}},
"encoding":{
"x":{"field":"d","type":"temporal","scale":{"type":"utc","domain":[{"year":2018,"month":1,"date":1,"utc":true},{"year":2019,"month":1,"date":1,"utc":true}]},"axis":{"title":null,"values":[{"year":2018,"month":1,"date":1,"utc":true},{"year":2018,"month":4,"date":1,"utc":true},{"year":2018,"month":7,"date":1,"utc":true},{"year":2018,"month":10,"date":1,"utc":true},{"year":2019,"month":1,"date":1,"utc":true}],"labelExpr":"utcFormat(datum.value,'%m-%d %H:%M')","labelFlush":false,"labelOverlap":false}},
"y":{"field":"v","type":"quantitative","scale":{"domain":[89,92],"zero":false,"nice":false},"axis":{"title":"Angles（°）","values":[89,90,91,92]}},
"color":{"field":"k","type":"nominal","scale":{"domain":["e","f","g"],"range":["#0072BD","#D95319","#EDB120"]},"legend":{"title":null,"legendX":470,"legendY":4,"labelExpr":"datum.label=='e'?'XY':datum.label=='f'?'YZ':'ZX'"}},
"detail":{"field":"s"}}}
],
"config":{
"font":"Liberation Sans",
"view":{"stroke":"#a6a6a6","strokeWidth":1},
"axis":{"domain":false,"grid":true,"gridColor":"#e3e3e3","gridWidth":1,"labelFont":"Liberation Sans","labelFontSize":12.5,"labelColor":"#262626","ticks":false,"labelPadding":5,"titleFont":"Liberation Sans","titleFontSize":14,"titleFontWeight":"normal","titleColor":"#262626","titlePadding":3},
"axisX":{"labelPadding":8},
"title":{"fontSize":14,"fontWeight":"normal","font":"Liberation Sans","color":"#262626","offset":-3},
"legend":{"orient":"none","strokeColor":"#a6a6a6","fillColor":"white","padding":2,"labelFontSize":12,"labelFont":"Liberation Sans","labelColor":"#000","symbolType":"M-1.4,0H1.4M0.3,0A0.3,0.3,0,1,1,-0.3,0A0.3,0.3,0,1,1,0.3,0","symbolSize":196,"symbolStrokeWidth":1.2,"rowPadding":0,"labelOffset":5,"cornerRadius":0}
}
}
